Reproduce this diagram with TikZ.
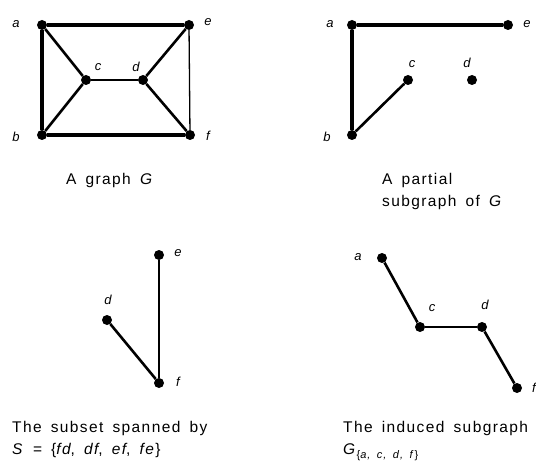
\documentclass[tikz,border=0pt]{standalone}
\usepackage{fontspec}
\setmainfont{Liberation Sans}
\newfontfamily\capfont[LetterSpace=9,WordSpace=1.6]{Liberation Sans}
\begin{document}
\begin{tikzpicture}[x=1pt,y=-1pt,
  vtx/.style={circle,fill=black,inner sep=0pt,minimum size=10pt},
  lbl/.style={font=\fontsize{13}{15}\selectfont\itshape,inner sep=1pt},
  thick edge/.style={line width=4pt},
  mid edge/.style={line width=2.6pt},
  thin edge/.style={line width=1.3pt},
  captext/.style={font=\capfont\fontsize{15.5}{22}\selectfont,align=left,inner sep=0pt,anchor=north west}]
\useasboundingbox (0,0) rectangle (536,468);
% graph G
\node[vtx] (a1) at (42,25) {};
\node[vtx] (e1) at (189,25) {};
\node[vtx] (b1) at (42,135) {};
\node[vtx] (f1) at (190,135) {};
\node[vtx] (c1) at (86,80) {};
\node[vtx] (d1) at (143,80) {};
\node[lbl] (la1) at (16,24) {a};
\node[lbl] (le1) at (208,22) {e};
\node[lbl] (lb1) at (16,137) {b};
\node[lbl] (lf1) at (208,136) {f};
\node[lbl] (lc1) at (98,67) {c};
\node[lbl] (ld1) at (136,67) {d};
\draw[thick edge] (a1) -- (e1);
\draw[thick edge] (a1) -- (b1);
\draw[thick edge] (b1) -- (f1);
\draw[mid edge] (a1) -- (c1);
\draw[mid edge] (b1) -- (c1);
\draw[mid edge] (c1) -- (d1);
\draw[mid edge] (d1) -- (e1);
\draw[mid edge] (d1) -- (f1);
\draw[thin edge] (e1) -- (f1);
\node[captext] (capG) at (66,173) {A graph \textit{G}};
% partial subgraph
\node[vtx] (a2) at (352,25) {};
\node[vtx] (e2) at (508,25) {};
\node[vtx] (b2) at (352,135) {};
\node[vtx] (c2) at (408,80) {};
\node[vtx] (d2) at (472,80) {};
\node[lbl] (la2) at (330,24) {a};
\node[lbl] (le2) at (527,24) {e};
\node[lbl] (lb2) at (327,137) {b};
\node[lbl] (lc2) at (412,64) {c};
\node[lbl] (ld2) at (467,63) {d};
\draw[thick edge] (a2) -- (e2);
\draw[thick edge] (a2) -- (b2);
\draw[mid edge] (b2) -- (c2);
\node[captext] (capP) at (382,173) {A partial\\subgraph of \textit{G}};
% subgraph spanned
\node[vtx] (e3) at (159,255) {};
\node[vtx] (d3) at (107,320) {};
\node[vtx] (f3) at (159,383) {};
\node[lbl] (le3) at (178,253) {e};
\node[lbl] (ld3) at (108,300) {d};
\node[lbl] (lf3) at (178,382) {f};
\draw[thin edge] (e3) -- (f3);
\draw[mid edge] (d3) -- (f3);
\node[captext] (capS) at (12,421) {The subset spanned by\\\textit{S} = \{\textit{fd}, \textit{df}, \textit{ef}, \textit{fe}\}};
% induced subgraph
\node[vtx] (a4) at (382,258) {};
\node[vtx] (c4) at (420,327) {};
\node[vtx] (d4) at (482,327) {};
\node[vtx] (f4) at (517,388) {};
\node[lbl] (la4) at (358,257) {a};
\node[lbl] (lc4) at (432,308) {c};
\node[lbl] (ld4) at (485,305) {d};
\node[lbl] (lf4) at (534,388) {f};
\draw[mid edge] (a4) -- (c4);
\draw[thin edge] (c4) -- (d4);
\draw[mid edge] (d4) -- (f4);
\node[captext] (capI) at (343,421) {The induced subgraph\\\textit{G}\raisebox{-4pt}{\fontsize{11}{13}\selectfont\{\textit{a, c, d, f}\}}};
\end{tikzpicture}
\end{document}
